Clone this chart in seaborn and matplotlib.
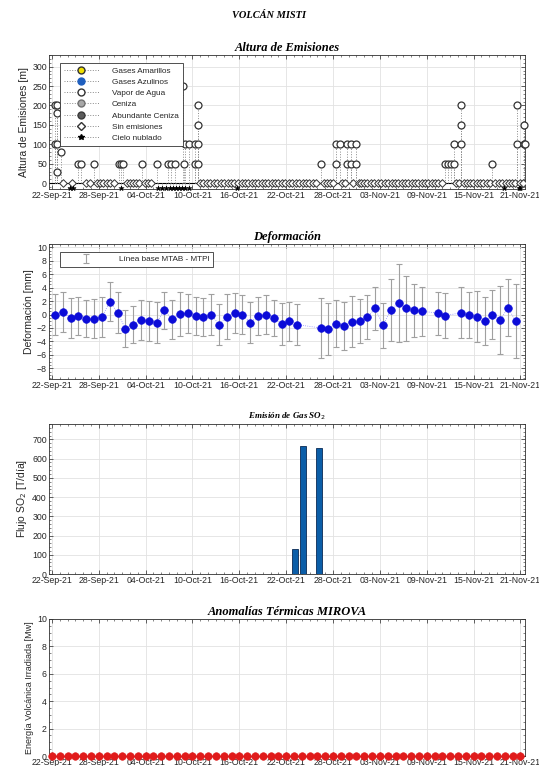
import numpy as np
import pandas as pd
import matplotlib
matplotlib.use("Agg")
import matplotlib.pyplot as plt
import matplotlib.dates as mdates
from matplotlib.lines import Line2D
from matplotlib.legend_handler import HandlerLine2D
from matplotlib.ticker import MultipleLocator, AutoMinorLocator
import seaborn as sns

inicio = pd.Timestamp("2021-09-22")

# Altura de emisiones: dias desde 22-Sep-21 y altura [m]
vapor_dias = [0.35, 0.35, 0.7, 0.7, 0.7, 0.7, 1.15,
              3.4, 3.75, 5.4, 8.6, 8.85, 9.1, 11.5, 13.4, 14.9, 15.3, 15.8,
              16.75, 17.05, 16.9, 17.5, 18.3, 18.3, 18.7, 18.7, 18.7, 18.7,
              34.4, 36.4, 36.4, 36.9, 37.8, 37.8, 38.25, 38.25, 38.95, 38.95,
              50.4, 50.75, 51.1, 51.5, 51.5, 52.4, 52.4, 52.4,
              56.4, 59.6, 59.6, 60.5, 60.5, 60.6]
vapor_alt = [200, 100, 200, 180, 100, 30, 80,
             50, 50, 50, 50, 50, 50, 50, 50, 50, 50, 50,
             250, 100, 50, 100, 100, 50, 200, 150, 100, 50,
             50, 100, 50, 100, 100, 50, 100, 50, 100, 50,
             50, 50, 50, 100, 50, 200, 150, 100,
             50, 200, 100, 150, 100, 100]
sin_emision_dias = [1.4, 2.6, 4.4, 4.9, 5.8, 6.2, 6.6, 7.0, 7.5, 7.9,
                    9.6, 10.0, 10.4, 10.8, 11.2, 11.9, 12.3, 12.7,
                    19.0, 19.4, 19.8, 20.3, 20.7, 21.2, 21.6, 22.0, 22.5, 22.9,
                    23.3, 23.8, 24.3, 24.7, 25.1, 25.6, 26.0, 26.4, 26.9, 27.3,
                    27.7, 28.2, 28.6, 29.0, 29.5, 29.9, 30.3, 30.8, 31.2, 31.6,
                    32.1, 32.5, 32.9, 33.4, 33.8, 34.8, 35.2, 35.6, 36.0, 37.2,
                    37.5, 38.6, 39.3, 39.6, 40.0, 40.4, 40.9, 41.3, 41.7, 42.2,
                    42.6, 43.0, 43.5, 43.9, 44.3, 44.8, 45.2, 45.6, 46.1, 46.5,
                    46.9, 47.4, 47.8, 48.2, 48.7, 49.1, 49.5, 50.0, 51.8, 52.1,
                    52.8, 53.1, 53.5, 53.9, 54.4, 54.8, 55.2, 55.7, 56.1, 56.8,
                    57.2, 57.6, 58.1, 58.5, 58.9, 59.3, 60.0, 60.3]
nublado_dias = [2.3, 2.7, 8.85, 13.6, 14.1, 14.6, 15.1, 15.5, 15.9, 16.3,
                16.7, 17.1, 17.6, 23.7, 57.9, 59.8, 60.0]

# Deformacion: dias desde 22-Sep-21, valor [mm], incertidumbre [mm]
def_dias = [0, 1, 2, 3, 4, 5, 6, 7, 8, 9, 10, 11, 12, 13, 14, 15, 16, 17, 18, 19,
            20, 21, 22, 23, 24, 25, 26, 27, 28, 29, 30, 31,
            34, 35, 36, 37, 38, 39, 40, 41, 42, 43, 44, 45, 46, 47,
            49, 50, 52, 53, 54, 55, 56, 57, 58, 59]
def_val = [0.0, 0.4, -0.5, -0.2, -0.6, -0.6, -0.4, 1.9, 0.3, -2.1, -1.5, -0.8,
           -1.0, -1.2, 0.6, -0.7, 0.1, 0.2, -0.2, -0.4, 0.0, -1.5, -0.3, 0.25,
           0.0, -1.2, -0.2, 0.0, -0.5, -1.4, -1.0, -1.5,
           -2.0, -2.2, -1.4, -1.7, -1.1, -1.0, -0.4, 0.9, -1.6, 0.7, 1.75, 0.9,
           0.6, 0.5, 0.2, -0.15, 0.25, -0.1, -0.3, -1.0, 0.0, -0.8, 1.0, -1.0]
def_err = [3.1, 3.0, 2.95, 2.8, 2.8, 2.85, 3.0, 2.9, 3.1, 2.8, 2.8, 3.0,
           3.0, 3.0, 2.8, 2.9, 3.3, 2.9, 2.8, 2.8, 3.1, 3.05, 3.3, 2.95,
           2.9, 3.1, 2.8, 2.95, 2.65, 3.1, 2.9, 3.0,
           4.5, 3.9, 3.5, 3.6, 3.8, 3.3, 3.3, 3.15, 3.35, 4.6, 5.8, 4.8,
           3.9, 3.65, 3.2, 3.4, 3.8, 3.4, 3.85, 3.55, 3.6, 5.1, 4.25, 5.5]

# SO2
so2_fechas = ["2021-10-23", "2021-10-24", "2021-10-26"]
so2_flujo = [130, 668, 657]

# MIROVA
mirova_fechas = pd.date_range("2021-09-22", "2021-11-21", freq="D")
mirova_vrp = [0, 0, 0, 0, 0, 0, 0, 0, 0, 0, 0, 0, 0, 0, 0, 0, 0, 0, 0, 0,
              0, 0, 0, 0, 0, 0, 0, 0, 0, 0, 0, 0, 0, 0, 0, 0, 0, 0, 0, 0,
              0, 0, 0, 0, 0, 0, 0, 0, 0, 0, 0, 0, 0, 0, 0, 0, 0, 0, 0, 0, 0]


class MarcadorAlFinal(HandlerLine2D):
    def get_xdata(self, legend, xdescent, ydescent, width, height, fontsize):
        return [-xdescent, -xdescent + width], [-xdescent + width - 2]


def dias(d):
    return inicio + pd.to_timedelta(np.asarray(d, dtype=float), unit="D")


sns.set_theme(style="whitegrid")
plt.rcParams["font.family"] = ["Liberation Sans", "DejaVu Sans"]
titulo = dict(family="Liberation Serif", weight="bold", style="italic", color="black")
txt = "#262626"

fig = plt.figure(figsize=(5.39, 7.66), dpi=100)
W, H = 539, 766
ax1 = fig.add_axes([49 / W, 1 - 189 / H, 476 / W, 134 / H])
ax2 = fig.add_axes([49 / W, 1 - 379 / H, 476 / W, 135 / H])
ax3 = fig.add_axes([49 / W, 1 - 574 / H, 476 / W, 150 / H])
ax4 = fig.add_axes([49 / W, 1 - 756 / H, 476 / W, 137 / H])

fig.text(0.5, 1 - 16 / H, "VOLCÁN MISTI", ha="center", va="center", fontsize=7.5, **titulo)

for ax in [ax1, ax2, ax3, ax4]:
    ax.set_xlim(inicio - pd.Timedelta(hours=9), inicio + pd.Timedelta(days=60, hours=14))
    ticks = [inicio + pd.Timedelta(days=6 * k) for k in range(11)]
    ax.set_xticks(ticks)
    ax.xaxis.set_major_formatter(mdates.DateFormatter("%d-%b-%y"))
    ax.xaxis.set_minor_locator(mdates.DayLocator())
    ax.yaxis.set_minor_locator(AutoMinorLocator(5))
    ax.tick_params(which="both", direction="in", top=True, right=True, bottom=True, left=True,
                   labelsize=6.3, colors=txt, pad=1.5)
    ax.tick_params(which="major", length=3, width=0.5)
    ax.tick_params(which="minor", length=1.6, width=0.4)
    ax.grid(True, which="major", color="#e2e2e2", lw=0.6)
    ax.grid(False, which="minor")
    for s in ax.spines.values():
        s.set_color("#303030")
        s.set_linewidth(0.6)
    ax.set_facecolor("white")

# Panel 1 - Altura de emisiones
t_vapor = dias(vapor_dias)
t_sin = dias(sin_emision_dias)
t_nub = dias(nublado_dias)
ax1.axhline(0, color="black", lw=0.8, zorder=2)
ax1.vlines(t_vapor, 0, vapor_alt, colors="#8a8a8a", linestyles=":", lw=0.7, zorder=2)
ax1.vlines(t_nub, 0, -13, colors="#8a8a8a", linestyles=":", lw=0.7, zorder=2)
sns.scatterplot(x=t_sin, y=np.zeros(len(t_sin)), ax=ax1, marker="D", s=15,
                facecolor="white", edgecolor="#333333", linewidth=0.7, zorder=3)
sns.scatterplot(x=t_vapor, y=vapor_alt, ax=ax1, marker="o", s=25,
                facecolor="white", edgecolor="#333333", linewidth=0.9, zorder=4, clip_on=False)
sns.scatterplot(x=t_nub, y=np.full(len(t_nub), -13), ax=ax1, marker="*", s=16,
                color="black", edgecolor="black", linewidth=0.3, zorder=4, clip_on=False)
ax1.set_ylim(-15, 330)
ax1.yaxis.set_major_locator(MultipleLocator(50))
ax1.set_ylabel("Altura de Emisiones [m]", fontsize=7.5, color=txt, labelpad=2)
ax1.set_title("Altura de Emisiones", fontsize=9, pad=3, **titulo)

estilo = dict(ls=":", color="#8a8a8a", lw=0.7, ms=5)
handles = [
    Line2D([], [], marker="o", mfc="#f0e000", mec="#333333", **estilo),
    Line2D([], [], marker="o", mfc="#1f5fbf", mec="#1f5fbf", **estilo),
    Line2D([], [], marker="o", mfc="white", mec="#333333", **estilo),
    Line2D([], [], marker="o", mfc="#a8a8a8", mec="#707070", **estilo),
    Line2D([], [], marker="o", mfc="#5c5c5c", mec="#3a3a3a", **estilo),
    Line2D([], [], marker="D", mfc="white", mec="#333333", ls=":", color="#8a8a8a", lw=0.7, ms=3.8),
    Line2D([], [], marker="*", mfc="black", mec="black", ls=":", color="#8a8a8a", lw=0.7, ms=4),
]
etiquetas = ["Gases Amarillos", "Gases Azulinos", "Vapor de Agua", "Ceniza",
             "Abundante Ceniza", "Sin emisiones", "Cielo nublado"]
leg1 = ax1.legend(handles, etiquetas, loc="upper left", bbox_to_anchor=(11 / 476, 1 - 8 / 134),
                  borderaxespad=0, fontsize=5.9, handlelength=4.2, handletextpad=1.6,
                  labelspacing=0.42, borderpad=0.5, fancybox=False, framealpha=1,
                  edgecolor="#333333", handler_map={Line2D: MarcadorAlFinal()})
leg1.get_frame().set_linewidth(0.6)
leg1.set_zorder(6)

# Panel 2 - Deformacion
t_def = dias(np.array(def_dias) + 0.4)
ax2.errorbar(t_def, def_val, yerr=def_err, fmt="none", ecolor="#a0a0a0", elinewidth=0.8,
             capsize=2.5, capthick=0.8, label="Línea base MTAB - MTPI", zorder=2)
sns.lineplot(x=t_def, y=def_val, ax=ax2, color="#8c8cff", lw=0.6, ls=":", zorder=3)
sns.scatterplot(x=t_def, y=def_val, ax=ax2, color="#0c0cd8", edgecolor="#0c0cd8",
                s=30, linewidth=0.5, zorder=4)
ax2.set_ylim(-9.6, 10.5)
ax2.yaxis.set_major_locator(MultipleLocator(2))
ax2.yaxis.set_minor_locator(AutoMinorLocator(4))
ax2.set_ylabel("Deformación [mm]", fontsize=7.5, color=txt, labelpad=2)
ax2.set_title("Deformación", fontsize=9, pad=3, **titulo)
leg2 = ax2.legend(loc="upper left", bbox_to_anchor=(11 / 476, 1 - 8 / 135), borderaxespad=0,
                  fontsize=5.9, handlelength=5.5, handletextpad=1.2, borderpad=0.45,
                  fancybox=False, framealpha=1, edgecolor="#333333")
leg2.get_frame().set_linewidth(0.6)

# Panel 3 - SO2
ax3.bar(pd.to_datetime(so2_fechas) + pd.Timedelta(hours=4), so2_flujo, width=0.8,
        color="#0b5ea8", edgecolor="#0a2a55", lw=0.6, zorder=3)
ax3.set_ylim(0, 780)
ax3.yaxis.set_major_locator(MultipleLocator(100))
ax3.yaxis.set_minor_locator(AutoMinorLocator(5))
ax3.set_ylabel("Flujo SO$_2$ [T/día]", fontsize=7.5, color=txt, labelpad=2)
ax3.set_title("Emisión de Gas SO$_2$", fontsize=6.5, pad=4, **titulo)

# Panel 4 - MIROVA
sns.scatterplot(x=mirova_fechas, y=mirova_vrp, ax=ax4, color="#e01b1b", edgecolor="#e01b1b",
                s=30, linewidth=0.4, zorder=4, clip_on=False)
ax4.set_ylim(0, 10)
ax4.yaxis.set_major_locator(MultipleLocator(2))
ax4.yaxis.set_minor_locator(AutoMinorLocator(4))
ax4.set_ylabel("Energía Volcánica Irradiada [Mw]", fontsize=6.5, color=txt, labelpad=2)
ax4.set_title("Anomalías Térmicas MIROVA", fontsize=9, pad=3, **titulo)

for ax in [ax1, ax2, ax3, ax4]:
    ax.set_xlabel("")

fig.savefig("out.png", dpi=100)
